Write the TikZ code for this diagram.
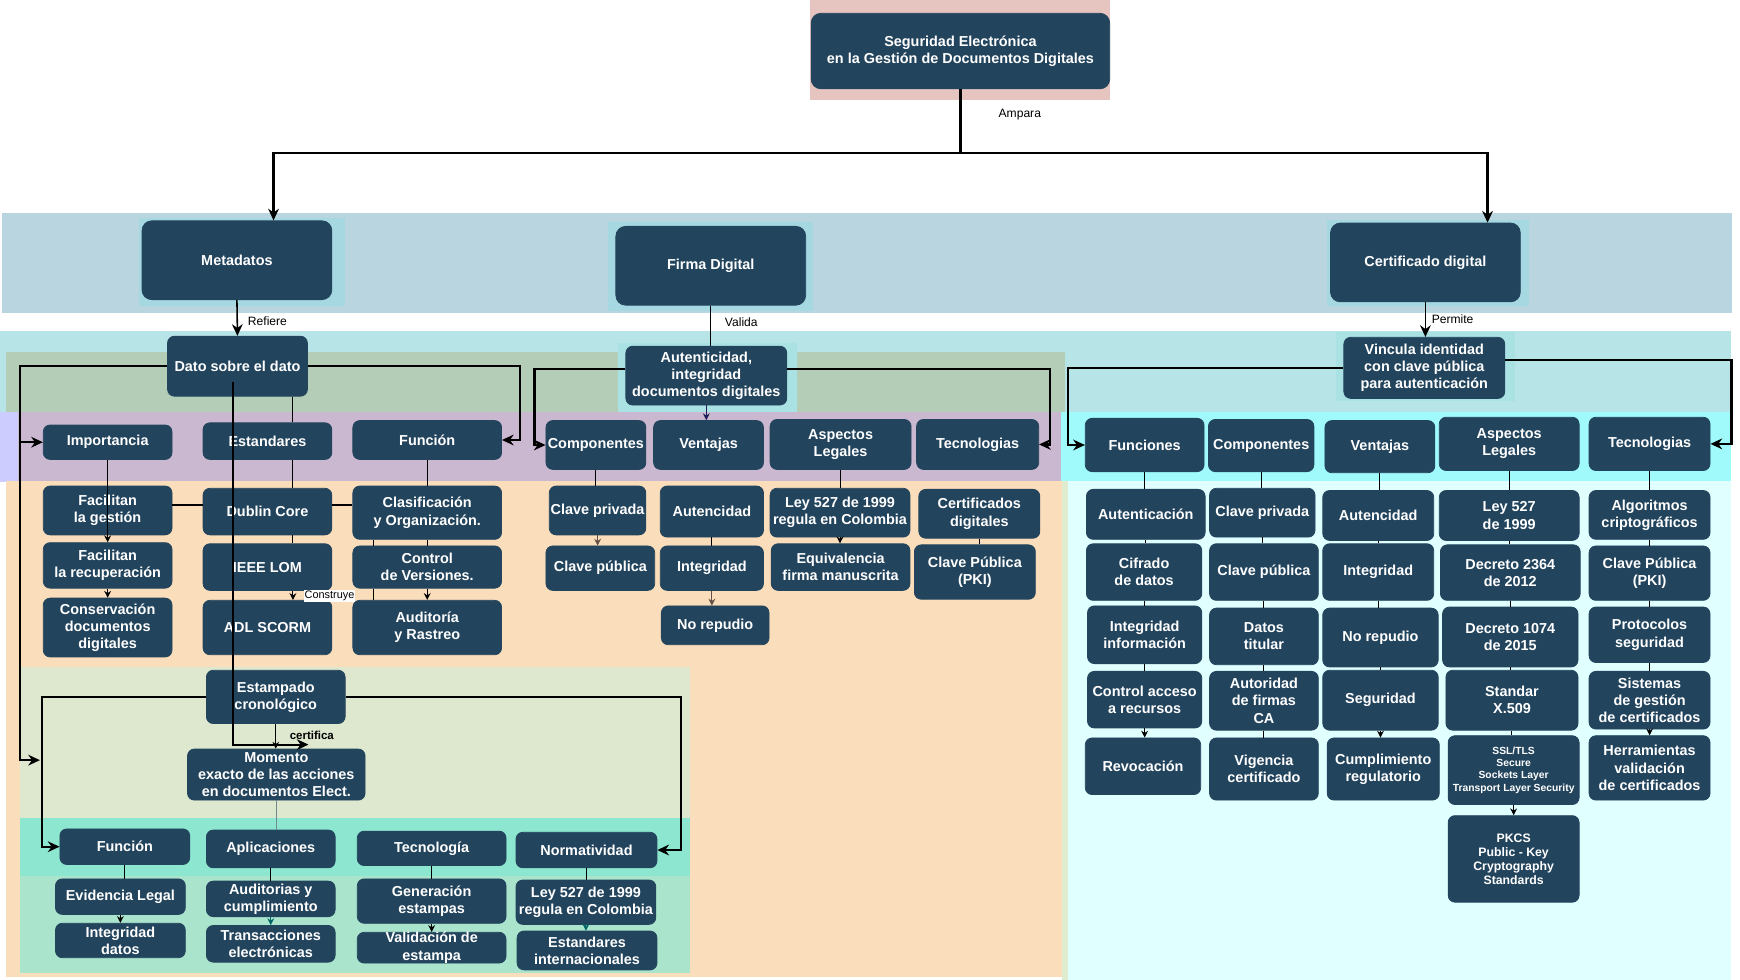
\documentclass[tikz,border=0pt]{standalone}
\usepackage{fontspec}
\setmainfont{Liberation Sans}
\usetikzlibrary{arrows.meta,calc}

\definecolor{navy}{RGB}{35,68,93}
\definecolor{rosa}{RGB}{230,196,192}
\definecolor{azulfondo}{RGB}{184,213,224}
\definecolor{cianfondo}{RGB}{166,216,226}
\definecolor{cianbanda}{RGB}{183,228,230}
\definecolor{oliva}{RGB}{180,205,182}
\definecolor{malva}{RGB}{202,184,208}
\definecolor{lavanda}{RGB}{204,204,255}
\definecolor{durazno}{RGB}{250,221,187}
\definecolor{verdeclaro}{RGB}{221,232,207}
\definecolor{turquesa}{RGB}{140,230,208}
\definecolor{menta}{RGB}{170,228,204}
\definecolor{cianvivo}{RGB}{160,250,252}
\definecolor{cianpalido}{RGB}{224,255,255}
\definecolor{autfondo}{RGB}{170,226,228}
\definecolor{verdeborde}{RGB}{224,236,208}
\definecolor{tealosc}{RGB}{0,102,102}
\definecolor{cafe}{RGB}{100,80,70}
\definecolor{azulosc}{RGB}{30,30,90}
\definecolor{grisverde}{RGB}{110,140,140}

\newcommand{\fnodo}{\fontsize{7.4}{8.8}\selectfont\bfseries}
\newcommand{\fetq}{\fontsize{6.2}{7.2}\selectfont}
\newcommand{\fssl}{\fontsize{5.3}{6.3}\selectfont\bfseries}
\newcommand{\fpkcs}{\fontsize{6.3}{7.2}\selectfont\bfseries}
\newcommand{\fcert}{\fontsize{5.9}{7}\selectfont\bfseries}
\newcommand{\fcons}{\fontsize{5.6}{6.5}\selectfont}

\begin{document}
\begin{tikzpicture}[x=0.02cm, y=-0.02cm,
  caja/.style={draw=navy, fill=navy, rounded corners=3.5pt, text=white, font=\fnodo, align=center, inner sep=0pt},
  cajag/.style={caja, rounded corners=5pt},
  marco/.style n args={4}{minimum width={(#3-#1)*0.02cm}, minimum height={(#4-#2)*0.02cm}, at={({(#1+#3)/2},{(#2+#4)/2})}},
  etq/.style={font=\fetq, inner sep=1pt},
  linea/.style={line width=0.5pt},
  guia/.style={line width=1.1pt},
  punta/.style={-{Stealth[length=3.5pt, width=3.5pt]}},
  puntag/.style={-{Stealth[length=6pt, width=5.5pt]}}]

\useasboundingbox (0,0) rectangle (1568,883);

% Fondos
\fill[rosa] (730,0) rectangle (1000,90);
\fill[azulfondo] (2,192) rectangle (1561,282);
\fill[cianfondo] (125,196) rectangle (311,276);
\fill[cianfondo] (548,200) rectangle (733,280);
\fill[cianfondo] (1196,198) rectangle (1378,276);
\fill[cianbanda] (0,298) rectangle (1560,372);
\fill[oliva] (5,317) rectangle (960,372);
\fill[autfondo] (557,309) rectangle (718,371);
\fill[autfondo] (1204,299) rectangle (1365,361);
\fill[malva] (16,371) rectangle (960,433);
\fill[lavanda] (0,371) rectangle (16,434);
\fill[durazno] (5,433) rectangle (960,880);
\fill[verdeclaro] (18,601) rectangle (622,737);
\fill[turquesa] (18,737) rectangle (622,789);
\fill[menta] (18,789) rectangle (622,877);
\fill[cianvivo] (956,371) rectangle (1560,433);
\fill[cianpalido] (960,433) rectangle (1560,883);
\fill[verdeborde] (957,433) rectangle (962,883);

% Nivel superior
\node[cajag, marco={731}{12}{1000}{80}] (titulo) {Seguridad Electrónica\\en la Gestión de Documentos Digitales};
\node[cajag, marco={128}{199}{299}{270}] (meta) {Metadatos};
\node[cajag, marco={555}{204}{726}{275}] (firma) {Firma Digital};
\node[cajag, marco={1199}{201}{1370}{272}] (certif) {Certificado digital};
\node[caja, marco={151}{303}{277}{357}] (dato) {Dato sobre el dato};
\node[caja, marco={564}{312}{709}{365}] (autent) {Autenticidad,\\integridad\\documentos digitales};
\node[caja, marco={1211}{304}{1356}{359}] (vinc) {Vincula identidad\\con clave pública\\para autenticación};

% Metadatos
\node[caja, marco={39}{383}{155}{414}] (imp) {Importancia};
\node[caja, marco={183}{381}{299}{414}] (est) {Estandares};
\node[caja, marco={318}{379}{452}{414}] (fun) {Función};
\node[caja, marco={39}{438}{155}{482}] (fgest) {Facilitan\\la gestión};
\node[caja, marco={183}{440}{299}{482}] (dub) {Dublin Core};
\node[caja, marco={318}{438}{452}{486}] (clas) {Clasificación\\y Organización.};
\node[caja, marco={39}{489}{155}{530}] (frec) {Facilitan\\la recuperación};
\node[caja, marco={183}{490}{299}{532}] (ieee) {IEEE LOM};
\node[caja, marco={318}{492}{452}{530}] (ctrl) {Control\\de Versiones.};
\node[caja, marco={39}{539}{155}{592}] (cons) {Conservación\\documentos\\digitales};
\node[caja, marco={183}{541}{299}{590}] (adl) {ADL SCORM};
\node[caja, marco={318}{541}{452}{590}] (aud) {Auditoría\\y Rastreo};

% Estampado cronologico
\node[caja, marco={186}{604}{311}{652}] (estamp) {Estampado\\cronológico};
\node[caja, marco={169}{675}{329}{721}] (momento) {Momento\\exacto de las acciones\\en documentos Elect.};
\node[caja, marco={54}{747}{171}{779}] (fun2) {Función};
\node[caja, marco={186}{748}{302}{782}] (apl) {Aplicaciones};
\node[caja, marco={322}{749}{456}{780}] (tecn) {Tecnología};
\node[caja, marco={465}{750}{592}{782}] (norm) {Normatividad};
\node[caja, marco={50}{792}{167}{824}] (evid) {Evidencia Legal};
\node[caja, marco={186}{794}{302}{826}] (audc) {Auditorias y\\cumplimiento};
\node[caja, marco={322}{792}{456}{832}] (gen) {Generación\\estampas};
\node[caja, marco={465}{793}{591}{833}] (ley2) {Ley 527 de 1999\\regula en Colombia};
\node[caja, marco={50}{832}{167}{863}] (integ) {Integridad\\datos};
\node[caja, marco={186}{834}{302}{867}] (trans) {Transacciones\\electrónicas};
\node[caja, marco={322}{841}{456}{867}] (val) {Validación de\\estampa};
\node[caja, marco={466}{839}{592}{874}] (estint) {Estandares\\internacionales};

% Firma digital
\node[caja, marco={492}{379}{582}{423}] (comp) {Componentes};
\node[caja, marco={589}{379}{688}{423}] (vent) {Ventajas};
\node[caja, marco={694}{378}{821}{423}] (asp) {Aspectos\\Legales};
\node[caja, marco={826}{378}{936}{423}] (tec) {Tecnologias};
\node[caja, marco={495}{438}{582}{482}] (cpriv) {Clave privada};
\node[caja, marco={492}{492}{590}{532}] (cpub) {Clave pública};
\node[caja, marco={595}{438}{688}{484}] (autc) {Autencidad};
\node[caja, marco={595}{492}{688}{532}] (integm) {Integridad};
\node[caja, marco={596}{546}{693}{581}] (norep) {No repudio};
\node[caja, marco={694}{440}{820}{484}] (ley1) {Ley 527 de 1999\\regula en Colombia};
\node[caja, marco={695}{490}{820}{532}] (equiv) {Equivalencia\\firma manuscrita};
\node[caja, marco={828}{441}{937}{485}] (certd) {Certificados\\digitales};
\node[caja, marco={824}{491}{933}{540}] (pkim) {Clave Pública\\(PKI)};

% Certificado digital
\node[caja, marco={978}{377}{1085}{425}] (funs) {Funciones};
\node[caja, marco={1089}{378}{1184}{425}] (comps) {Componentes};
\node[caja, marco={1194}{379}{1293}{426}] (vents) {Ventajas};
\node[caja, marco={1297}{376}{1423}{424}] (asps) {Aspectos\\Legales};
\node[caja, marco={1432}{376}{1541}{424}] (tecs) {Tecnologias};

\node[caja, marco={979}{441}{1086}{486}] (autr) {Autenticación};
\node[caja, marco={979}{490}{1083}{541}] (cif) {Cifrado\\de datos};
\node[caja, marco={980}{546}{1083}{598}] (intinf) {Integridad\\información};
\node[caja, marco={980}{605}{1083}{656}] (ctlacc) {Control acceso\\a recursos};
\node[caja, marco={978}{665}{1082}{716}] (revoc) {Revocación};

\node[caja, marco={1090}{440}{1185}{484}] (cprivr) {Clave privada};
\node[caja, marco={1090}{490}{1188}{541}] (cpubr) {Clave pública};
\node[caja, marco={1090}{548}{1188}{599}] (datos) {Datos\\titular};
\node[caja, marco={1090}{605}{1188}{658}] (autor) {Autoridad\\de firmas\\CA};
\node[caja, marco={1090}{665}{1188}{721}] (vig) {Vigencia\\certificado};

\node[caja, marco={1192}{442}{1292}{487}] (autcr) {Autencidad};
\node[caja, marco={1192}{490}{1292}{541}] (integr) {Integridad};
\node[caja, marco={1192}{548}{1296}{601}] (noreper) {No repudio};
\node[caja, marco={1192}{604}{1296}{658}] (segur) {Seguridad};
\node[caja, marco={1196}{665}{1297}{721}] (cumpl) {Cumplimiento\\regulatorio};

\node[caja, marco={1297}{442}{1423}{487}] (leyr) {Ley 527\\de 1999};
\node[caja, marco={1298}{491}{1424}{541}] (dec1) {Decreto 2364\\de 2012};
\node[caja, marco={1300}{547}{1422}{601}] (dec2) {Decreto 1074\\de 2015};
\node[caja, marco={1303}{604}{1422}{658}] (x509) {Standar\\X.509};
\node[caja, marco={1305}{663}{1423}{725}, font=\fssl] (ssl) {SSL/TLS\\Secure\\Sockets Layer\\Transport Layer Security};
\node[caja, marco={1305}{735}{1423}{813}, font=\fpkcs] (pkcs) {PKCS\\Public - Key\\Cryptography\\Standards};

\node[caja, marco={1432}{442}{1541}{486}] (algo) {Algoritmos\\criptográficos};
\node[caja, marco={1432}{492}{1541}{541}] (pkir) {Clave Pública\\(PKI)};
\node[caja, marco={1432}{547}{1541}{597}] (proto) {Protocolos\\seguridad};
\node[caja, marco={1432}{605}{1541}{657}] (sist) {Sistemas\\de gestión\\de certificados};
\node[caja, marco={1432}{663}{1541}{721}] (herr) {Herramientas\\validación\\de certificados};

% Conectores principales
\draw[guia] (titulo.south) -- (titulo.south |- 0,138) coordinate (rama);
\draw[guia, puntag] (rama) -| ($(meta.north)+(33,0)$);
\draw[guia, puntag] (rama) -| ($(certif.north)+(56,0)$);
\node[etq] (lampara) at (919,103) {Ampara};

\draw[line width=0.8pt, puntag] (meta.south) -- (dato.north);
\node[etq] (lrefiere) at (241,289) {Refiere};
\draw[linea] (firma.south) -- (firma.south |- autent.north);
\node[etq] (lvalida) at (668,290) {Valida};
\draw[line width=0.8pt, puntag] (certif.south) -- (certif.south |- vinc.north);
\node[etq] (lpermite) at (1309,288) {Permite};

% Ramas de Metadatos
\coordinate (izq) at (18,685);
\coordinate (verde) at (36,685);
\coordinate (certf) at (278,671);
\coordinate (c264) at (264,0);
\coordinate (c337) at (337,0);
\draw[guia, puntag] (dato.west) -| (izq) -- (verde);
\draw[guia, puntag] (imp.west -| izq) -- (imp.west);
\draw[guia, puntag] (dato.east) -| ($(fun.east)+(16,0)$) -- (fun.east);
\draw[guia, puntag] ($(dato.center)+(-4,14)$) |- (certf);

\draw[linea] (dato.south -| c264) -- (est.north -| c264);
\draw[linea] (est.south -| c264) -- (dub.north -| c264);
\draw[linea] (dub.south -| c264) -- (ieee.north -| c264);
\draw[linea, punta] (ieee.south -| c264) -- (adl.north -| c264);
\node[etq, font=\fcons, fill=white, inner sep=0.5pt] (lconst) at (297,537) {Construye};
\draw[line width=0.8pt] ($(fgest.east)+(0,-5)$) -- ($(fgest.east -| dub.west)+(0,-5)$);
\draw[line width=0.8pt] ($(dub.east)+(0,-6)$) -- ($(dub.east -| clas.west)+(0,-6)$);
\draw[linea, punta] (imp.south) -- (imp.south |- frec.north);
\draw[linea, punta] (frec.south) -- (frec.south |- cons.north);
\draw[linea] (fun.south) -- (fun.south |- clas.north);
\draw[linea] (clas.south) -- (clas.south |- ctrl.north);
\draw[linea, punta] (ctrl.south) -- (ctrl.south |- aud.north);
\draw[linea] (clas.south -| c337) -- (ctrl.north -| c337);
\draw[linea] (ctrl.south -| c337) -- (aud.north -| c337);

% Ramas de Estampado
\draw[guia, puntag] (estamp.west) -| ($(fun2.west)+(-16,0)$) -- (fun2.west);
\draw[guia, puntag] (estamp.east) -| ($(norm.east)+(21,0)$) -- (norm.east);
\draw[linea, punta] (estamp.south) -- (estamp.south |- momento.north);
\node[etq, font=\fcert] (lcert) at (281,663) {certifica};
\draw[linea, grisverde] (momento.south) -- (momento.south |- apl.north);
\draw[linea] (fun2.south) -- (fun2.south |- evid.north);
\draw[linea, punta] (evid.south) -- (evid.south |- integ.north);
\draw[linea] (apl.south) -- (apl.south |- audc.north);
\draw[linea, punta, tealosc] (audc.south) -- (audc.south |- trans.north);
\draw[linea] (tecn.south) -- (tecn.south |- gen.north);
\draw[linea, punta] (gen.south) -- (gen.south |- val.north);
\draw[linea] (norm.south) -- (norm.south |- ley2.north);
\draw[linea, punta, tealosc] (ley2.south) -- (ley2.south |- estint.north);

% Ramas de Firma digital
\draw[guia, puntag] ($(autent.west)+(0,-6)$) -| ($(comp.west)+(-10,0)$) -- (comp.west);
\draw[guia, puntag] ($(autent.east)+(0,-6)$) -| ($(tec.east)+(10,0)$) -- (tec.east);
\draw[linea, punta, azulosc] (autent.south) -- (autent.south |- vent.north);
\draw[linea] (comp.south) -- (comp.south |- cpriv.north);
\draw[linea, punta, cafe] (cpriv.south) -- (cpriv.south |- cpub.north);
\draw[linea] (autc.south) -- (autc.south |- integm.north);
\draw[linea, punta, cafe] (integm.south) -- (integm.south |- norep.north);
\draw[linea] (asp.south) -- (asp.south |- ley1.north);
\draw[linea, punta] (ley1.south) -- (ley1.south |- equiv.north);
\draw[linea] (certd.south) -- (certd.south |- pkim.north);

% Ramas de Certificado digital
\draw[guia, puntag] (vinc.west) -| ($(funs.west)+(-15,0)$) -- (funs.west);
\draw[guia, puntag] ($(vinc.east)+(0,-7)$) -| ($(tecs.east)+(19,0)$) -- (tecs.east);

\draw[linea] (funs.south) -- (funs.south |- autr.north);
\draw[linea] (autr.south) -- (autr.south |- cif.north);
\draw[linea] (cif.south) -- (cif.south |- intinf.north);
\draw[linea] (intinf.south) -- (intinf.south |- ctlacc.north);
\draw[linea, punta] (ctlacc.south) -- (ctlacc.south |- revoc.north);

\draw[linea] (comps.south) -- (comps.south |- cprivr.north);
\draw[linea] (cprivr.south) -- (cprivr.south |- cpubr.north);
\draw[linea] (cpubr.south) -- (cpubr.south |- datos.north);
\draw[linea] (datos.south) -- (datos.south |- autor.north);
\draw[linea] (autor.south) -- (autor.south |- vig.north);

\draw[linea] (vents.south) -- (vents.south |- autcr.north);
\draw[linea] (autcr.south) -- (autcr.south |- integr.north);
\draw[linea] (integr.south) -- (integr.south |- noreper.north);
\draw[linea] (noreper.south) -- (noreper.south |- segur.north);
\draw[linea, punta] (segur.south) -- (segur.south |- cumpl.north);

\draw[linea] (asps.south) -- (asps.south |- leyr.north);
\draw[linea] (leyr.south) -- (leyr.south |- dec1.north);
\draw[linea] (dec1.south) -- (dec1.south |- dec2.north);
\draw[linea] (dec2.south) -- (dec2.south |- x509.north);
\draw[linea] (x509.south) -- (x509.south |- ssl.north);
\draw[linea, punta] (ssl.south) -- (ssl.south |- pkcs.north);

\draw[linea] (tecs.south) -- (tecs.south |- algo.north);
\draw[linea] (algo.south) -- (algo.south |- pkir.north);
\draw[linea] (pkir.south) -- (pkir.south |- proto.north);
\draw[linea] (proto.south) -- (proto.south |- sist.north);
\draw[linea, punta] (sist.south) -- (sist.south |- herr.north);

\end{tikzpicture}
\end{document}
